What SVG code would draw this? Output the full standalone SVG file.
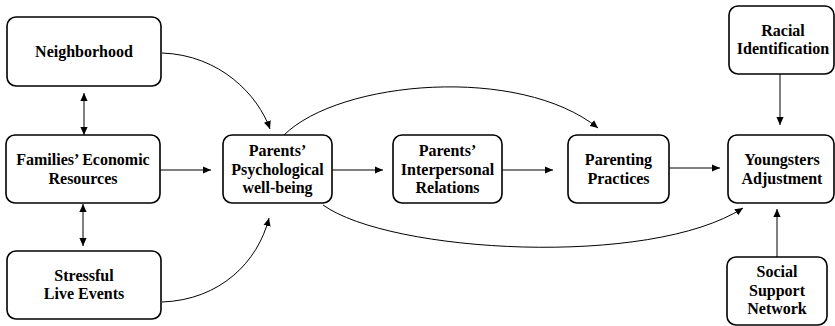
<svg xmlns="http://www.w3.org/2000/svg" width="835" height="326" viewBox="0 0 835 326">
<style>
.box{fill:#fff;stroke:#000;stroke-width:1.6}
.t{font-family:'Liberation Serif','DejaVu Serif','Times New Roman',Times,serif;font-weight:700;font-size:16px;text-anchor:middle;fill:#000}
.c{fill:none;stroke:#000;stroke-width:1}
</style>
<defs>
<marker id="ah" viewBox="0 0 10 10" refX="10" refY="5" markerWidth="8" markerHeight="8" markerUnits="userSpaceOnUse" orient="auto-start-reverse">
<path d="M0,0.5 L10,5 L0,9.5 z" fill="#000"/>
</marker>
</defs>
<rect width="835" height="326" fill="#fff"/>
<g id="connectors">
<line class="c" x1="84" y1="93" x2="84" y2="135" marker-start="url(#ah)" marker-end="url(#ah)"/>
<line class="c" x1="83" y1="204" x2="83" y2="246" marker-start="url(#ah)" marker-end="url(#ah)"/>
<line class="c" x1="160" y1="170" x2="211" y2="170" marker-end="url(#ah)"/>
<path class="c" d="M162,53 C220,55 258,95 270,129" marker-end="url(#ah)"/>
<path class="c" d="M162,302 C220,300 258,262 269,218" marker-end="url(#ah)"/>
<line class="c" x1="332" y1="170" x2="383" y2="170" marker-end="url(#ah)"/>
<line class="c" x1="502" y1="170" x2="553" y2="170" marker-end="url(#ah)"/>
<line class="c" x1="669" y1="168" x2="720" y2="168" marker-end="url(#ah)"/>
<path class="c" d="M284,135 C340,80 520,65 598,128" marker-end="url(#ah)"/>
<path class="c" d="M323,205 C390,253 650,268 743,208" marker-end="url(#ah)"/>
<line class="c" x1="780" y1="74" x2="780" y2="125" marker-end="url(#ah)"/>
<line class="c" x1="777" y1="257" x2="777" y2="209" marker-end="url(#ah)"/>
</g>
<g id="neighborhood">
<rect class="box" x="7" y="17" width="154" height="69" rx="9"/>
<text class="t" x="84" y="57">Neighborhood</text>
</g>
<g id="families">
<rect class="box" x="6" y="135" width="154" height="68" rx="9"/>
<text class="t" x="83" y="165">Families’ Economic</text>
<text class="t" x="83" y="184">Resources</text>
</g>
<g id="stressful">
<rect class="box" x="7" y="251" width="154" height="68" rx="9"/>
<text class="t" x="84" y="281">Stressful</text>
<text class="t" x="84" y="299">Live Events</text>
</g>
<g id="psychological">
<rect class="box" x="223" y="135" width="109" height="68" rx="9"/>
<text class="t" x="277.5" y="156">Parents’</text>
<text class="t" x="277.5" y="175">Psychological</text>
<text class="t" x="277.5" y="193">well-being</text>
</g>
<g id="interpersonal">
<rect class="box" x="393" y="135" width="109" height="68" rx="9"/>
<text class="t" x="447.5" y="156">Parents’</text>
<text class="t" x="447.5" y="175">Interpersonal</text>
<text class="t" x="447.5" y="193">Relations</text>
</g>
<g id="parenting">
<rect class="box" x="568" y="135" width="101" height="68" rx="9"/>
<text class="t" x="618.5" y="165">Parenting</text>
<text class="t" x="618.5" y="184">Practices</text>
</g>
<g id="youngsters">
<rect class="box" x="728" y="135" width="106" height="68" rx="9"/>
<text class="t" x="782" y="165">Youngsters</text>
<text class="t" x="782" y="184">Adjustment</text>
</g>
<g id="racial">
<rect class="box" x="729" y="6" width="105" height="68" rx="9"/>
<text class="t" x="783" y="36">Racial</text>
<text class="t" x="783" y="54">Identification</text>
</g>
<g id="social">
<rect class="box" x="727" y="257" width="100" height="68" rx="9"/>
<text class="t" x="777" y="277">Social</text>
<text class="t" x="777" y="296">Support</text>
<text class="t" x="777" y="314">Network</text>
</g>
</svg>
